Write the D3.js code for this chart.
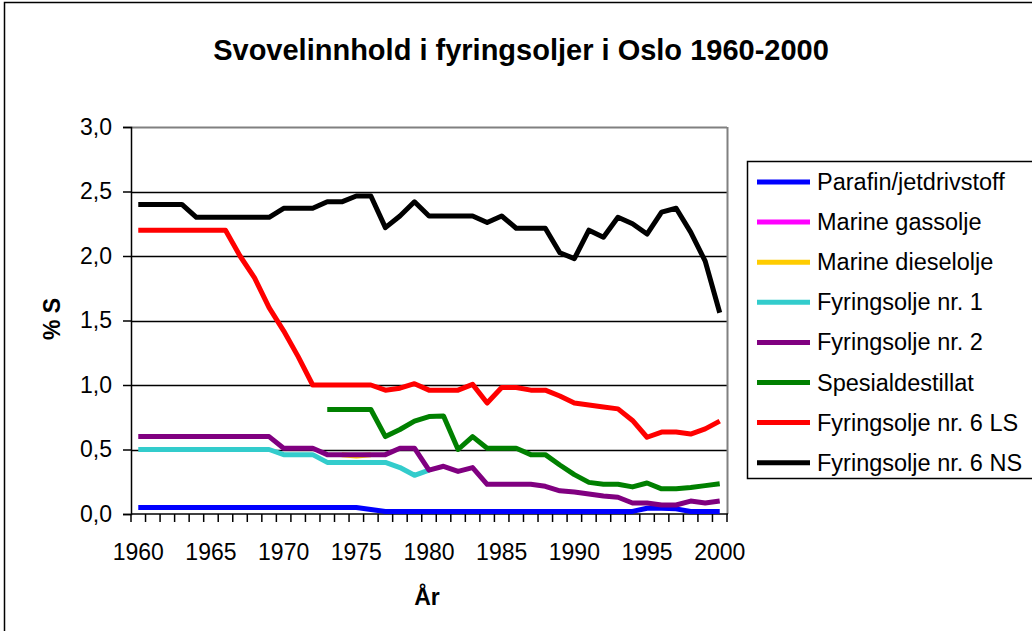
<!DOCTYPE html>
<meta charset="utf-8">
<script src="https://cdn.jsdelivr.net/npm/d3@7"></script>
<style>
  body { margin: 0; background: #fff; }
  text { font-family: "Liberation Sans", Arial, sans-serif; }
</style>
<body>
<script>

// categories
var years = [1960,1961,1962,1963,1964,1965,1966,1967,1968,1969,
             1970,1971,1972,1973,1974,1975,1976,1977,1978,1979,
             1980,1981,1982,1983,1984,1985,1986,1987,1988,1989,
             1990,1991,1992,1993,1994,1995,1996,1997,1998,1999,2000]
var yearLabels = [1960,1965,1970,1975,1980,1985,1990,1995,2000]
var yTicks = [0,0.5,1,1.5,2,2.5,3]

var _ = null
var parafin = [0.05,0.05,0.05,0.05,0.05,0.05,0.05,0.05,0.05,0.05,
               0.05,0.05,0.05,0.05,0.05,0.05,0.035,0.02,0.02,0.02,
               0.02,0.02,0.02,0.02,0.02,0.02,0.02,0.02,0.02,0.02,
               0.02,0.02,0.02,0.02,0.02,0.045,0.045,0.04,0.02,0.02,0.02]
var gassolje = [_,_,_,_,_,_,_,_,_,_,_,_,_,_,_,_,_,_,_,_,_,
                _,_,_,_,_,_,_,_,_,_,_,_,_,_,_,_,_,_,_,_]
var dieselolje = [_,_,_,_,_,_,_,_,_,_,
                  _,_,_,_,0.46,0.45,0.46,_,_,_,
                  _,_,_,_,_,_,_,_,_,_,
                  _,_,_,_,_,_,_,_,_,_,_]
var nr1 = [0.5,0.5,0.5,0.5,0.5,0.5,0.5,0.5,0.5,0.5,
           0.46,0.46,0.46,0.40,0.40,0.40,0.40,0.40,0.36,0.30,
           0.34,_,_,_,_,_,_,_,_,_,
           _,_,_,_,_,_,_,_,_,_,_]
var nr2 = [0.6,0.6,0.6,0.6,0.6,0.6,0.6,0.6,0.6,0.6,
           0.51,0.51,0.51,0.46,0.46,0.46,0.46,0.46,0.51,0.51,
           0.34,0.37,0.33,0.36,0.23,0.23,0.23,0.23,0.215,0.18,
           0.17,0.155,0.14,0.13,0.085,0.085,0.07,0.07,0.10,0.085,0.10]
var spesial = [_,_,_,_,_,_,_,_,_,_,
               _,_,_,0.81,0.81,0.81,0.81,0.60,0.655,0.72,
               0.755,0.76,0.50,0.60,0.51,0.51,0.51,0.46,0.46,0.38,
               0.305,0.245,0.23,0.23,0.21,0.24,0.195,0.195,0.205,0.22,0.235]
var nr6LS = [2.2,2.2,2.2,2.2,2.2,2.2,2.2,2.0,1.83,1.6,
             1.42,1.22,1.0,1.0,1.0,1.0,1.0,0.96,0.975,1.01,
             0.96,0.96,0.96,1.005,0.86,0.98,0.98,0.96,0.96,0.915,
             0.86,0.845,0.83,0.815,0.725,0.595,0.635,0.635,0.62,0.66,0.72]
var nr6NS = [2.4,2.4,2.4,2.4,2.3,2.3,2.3,2.3,2.3,2.3,
             2.37,2.37,2.37,2.42,2.42,2.465,2.465,2.22,2.31,2.42,
             2.31,2.31,2.31,2.31,2.26,2.31,2.215,2.215,2.215,2.025,
             1.98,2.20,2.146,2.30,2.25,2.17,2.34,2.37,2.185,1.96,1.56]

var seriesNames = ["Parafin/jetdrivstoff","Marine gassolje","Marine dieselolje",
                   "Fyringsolje nr. 1","Fyringsolje nr. 2","Spesialdestillat",
                   "Fyringsolje nr. 6 LS","Fyringsolje nr. 6 NS"]
var seriesValues = [parafin, gassolje, dieselolje, nr1, nr2, spesial, nr6LS, nr6NS]
var seriesColors = ["#0000ff","#ff00ff","#ffcc00","#33cccc","#800080","#008000","#ff0000","#000000"]

var width = 1032
var height = 631
var plot = {left: 131, right: 727, top: 127, bottom: 514}

var svg = d3.select("body").append("svg")
            .attr("width", width)
            .attr("height", height)

// chart border
svg.append("rect")
   .attr("x", 4.5).attr("y", 2.5)
   .attr("width", 1040).attr("height", 650)
   .style("fill", "none").style("stroke", "#000").style("stroke-width", 1.5)

var x = d3.scaleBand().domain(years).range([plot.left, plot.right]).padding(0)
var y = d3.scaleLinear().domain([0, 3]).range([plot.bottom, plot.top])

// title
svg.append("text")
   .attr("x", 521).attr("y", 60)
   .style("text-anchor", "middle")
   .style("font-size", "29px")
   .style("font-weight", "bold")
   .text("Svovelinnhold i fyringsoljer i Oslo 1960-2000")

// gridlines
svg.append("g").selectAll("line")
   .data(yTicks.slice(1))
   .enter().append("line")
   .attr("x1", plot.left).attr("x2", plot.right)
   .attr("y1", d => Math.round(y(d)) + 0.5).attr("y2", d => Math.round(y(d)) + 0.5)
   .style("stroke", d => d == 3 ? "#808080" : "#000")
   .style("stroke-width", d => d == 3 ? 2 : 1.5)

// right plot border
svg.append("line")
   .attr("x1", plot.right + 0.5).attr("x2", plot.right + 0.5)
   .attr("y1", plot.top).attr("y2", plot.bottom)
   .style("stroke", "#808080").style("stroke-width", 2)

// y axis
var yAxis = svg.append("g")
   .attr("transform", "translate(" + plot.left + ",0)")
   .call(d3.axisLeft(y).tickValues(yTicks).tickSize(8).tickPadding(11)
           .tickFormat(d => d3.format(".1f")(d).replace(".", ",")))
yAxis.select(".domain").style("stroke-width", 1.5)
yAxis.selectAll(".tick line").style("stroke-width", 1.5)
yAxis.selectAll("text").style("font-size", "23px").style("font-family", "Liberation Sans, Arial, sans-serif")

// x axis, ticks between categories
var xAxis = svg.append("g")
   .attr("transform", "translate(0," + plot.bottom + ")")
xAxis.append("line")
   .attr("x1", plot.left).attr("x2", plot.right + 1)
   .style("stroke", "#000").style("stroke-width", 1.5)
xAxis.selectAll(".tk")
   .data(years.concat([2001]))
   .enter().append("line")
   .attr("class", "tk")
   .attr("x1", d => d == 2001 ? plot.right : x(d))
   .attr("x2", d => d == 2001 ? plot.right : x(d))
   .attr("y1", 0).attr("y2", 8)
   .style("stroke", "#000").style("stroke-width", 1.5)
xAxis.selectAll(".lbl")
   .data(yearLabels)
   .enter().append("text")
   .attr("class", "lbl")
   .attr("x", d => x(d) + x.bandwidth() / 2)
   .attr("y", 46)
   .style("text-anchor", "middle")
   .style("font-size", "23px")
   .text(d => d)

// axis titles
svg.append("text")
   .attr("x", 427).attr("y", 605)
   .style("text-anchor", "middle")
   .style("font-size", "23px").style("font-weight", "bold")
   .text("År")
svg.append("text")
   .attr("transform", "translate(60,319) rotate(-90)")
   .style("text-anchor", "middle")
   .style("font-size", "23px").style("font-weight", "bold")
   .text("% S")

// series
var line = d3.line()
   .defined(d => d.v != null)
   .x(d => x(d.year) + x.bandwidth() / 2)
   .y(d => y(d.v))

svg.append("g").selectAll("path")
   .data(seriesValues.map((vals, i) => ({color: seriesColors[i],
         pts: vals.map((v, j) => ({year: years[j], v: v}))})))
   .enter().append("path")
   .attr("d", d => line(d.pts))
   .style("fill", "none")
   .style("stroke", d => d.color)
   .style("stroke-width", 5)
   .style("stroke-linejoin", "round")

// legend
var legend = svg.append("g")
svg.append("rect")
   .attr("x", 747.5).attr("y", 161.5)
   .attr("width", 300).attr("height", 317)
   .style("fill", "none").style("stroke", "#000").style("stroke-width", 1.5)

var items = legend.selectAll("g")
   .data(seriesNames)
   .enter().append("g")
   .attr("transform", (d, i) => "translate(0," + (182 + i * 40.1) + ")")
items.append("line")
   .attr("x1", 757).attr("x2", 810)
   .style("stroke", (d, i) => seriesColors[i])
   .style("stroke-width", 5)
items.append("text")
   .attr("x", 817).attr("y", 8)
   .style("font-size", "23.5px")
   .text(d => d)

</script>
</body>
